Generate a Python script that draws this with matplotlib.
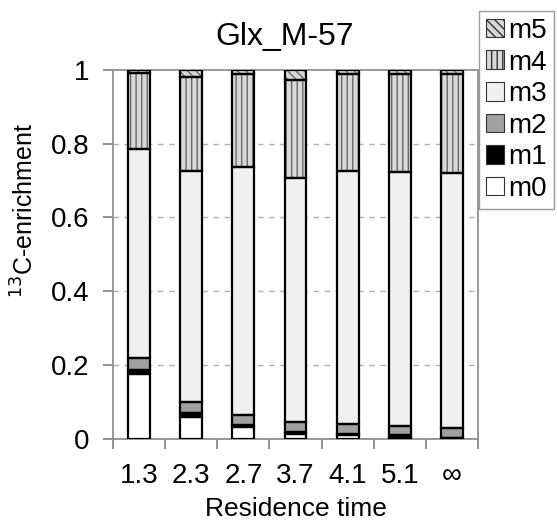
import matplotlib.pyplot as plt
import numpy as np

plt.rcParams['font.family'] = ['Liberation Sans', 'DejaVu Sans']
plt.rcParams['hatch.linewidth'] = 1.0

times = ['1.3', '2.3', '2.7', '3.7', '4.1', '5.1', '\u221e']
isotopomers = ['m0', 'm1', 'm2', 'm3', 'm4', 'm5']

# fractional abundance of each mass isotopomer per residence time
m0 = [0.175, 0.059, 0.031, 0.014, 0.010, 0.005, 0.002]
m1 = [0.011, 0.011, 0.007, 0.006, 0.004, 0.005, 0.001]
m2 = [0.033, 0.029, 0.027, 0.026, 0.027, 0.026, 0.027]
m3 = [0.567, 0.628, 0.671, 0.662, 0.686, 0.687, 0.690]
m4 = [0.205, 0.253, 0.253, 0.265, 0.262, 0.266, 0.269]
m5 = [0.009, 0.020, 0.011, 0.027, 0.011, 0.011, 0.011]

fills = ['white', 'black', '#a0a0a0', '#f0f0f0', '#d8d8d8', '#d8d8d8']
hatches = [None, None, None, None, '|||', '\\\\\\\\']

fig = plt.figure(figsize=(5.57, 5.25), dpi=100)
ax = fig.add_axes([0.203, 0.164, 0.655, 0.703])

x = np.arange(len(times))
width = 0.42
bottom = np.zeros(len(times))
handles = []
for name, vals, fc, h in zip(isotopomers, [m0, m1, m2, m3, m4, m5], fills, hatches):
    vals = np.array(vals)
    if h:
        ax.bar(x, vals, width, bottom=bottom, color=fc, hatch=h,
               edgecolor='#6a6a6a', linewidth=0, zorder=2)
    else:
        ax.bar(x, vals, width, bottom=bottom, color=fc, linewidth=0, zorder=2)
    ax.bar(x, vals, width, bottom=bottom, fill=False, edgecolor='black',
           linewidth=1.6, zorder=3)
    handles.append(plt.Rectangle((0, 0), 1, 1, facecolor=fc, hatch=h,
                                 edgecolor='#333333', linewidth=0.8, label=name))
    bottom += vals

ax.set_xlim(-0.5, len(times) - 0.5)
ax.set_ylim(0, 1)
ax.set_yticks([0, 0.2, 0.4, 0.6, 0.8, 1])
ax.set_yticklabels(['0', '0.2', '0.4', '0.6', '0.8', '1'], fontsize=20)
ax.set_xticks(x)
ax.set_xticklabels(times, fontsize=20)
ax.tick_params(axis='x', which='major', length=0, pad=17)
ax.set_xticks(np.arange(-0.5, len(times)), minor=True)
ax.tick_params(axis='x', which='minor', length=7, color='#808080', width=1.2)
ax.tick_params(axis='y', length=7, color='#808080', width=1.2, pad=10)

for y in [0.2, 0.4, 0.6, 0.8]:
    ax.axhline(y, color='#b0b0b0', linestyle=(0, (4, 4)), linewidth=1, zorder=1)

for side in ['left', 'top', 'right', 'bottom']:
    ax.spines[side].set_color('#909090')
    ax.spines[side].set_linewidth(1.3)

ax.set_title('Glx_M-57', fontsize=23, x=0.47, pad=18)
ax.set_xlabel('Residence time', fontsize=19)
ax.xaxis.set_label_coords(0.5, -0.158)
ax.set_ylabel('$^{13}$C-enrichment', fontsize=18)
ax.yaxis.set_label_coords(-0.205, 0.62)

fig.legend(handles=handles[::-1], loc='upper left',
           bbox_to_anchor=(479 / 557, 1 - 11 / 525), fontsize=20,
           frameon=True, fancybox=False, edgecolor='#808080',
           handlelength=0.65, handleheight=0.65, handletextpad=0.15,
           labelspacing=0.2, borderpad=0.25, borderaxespad=0)

fig.savefig('out.png', dpi=100)
